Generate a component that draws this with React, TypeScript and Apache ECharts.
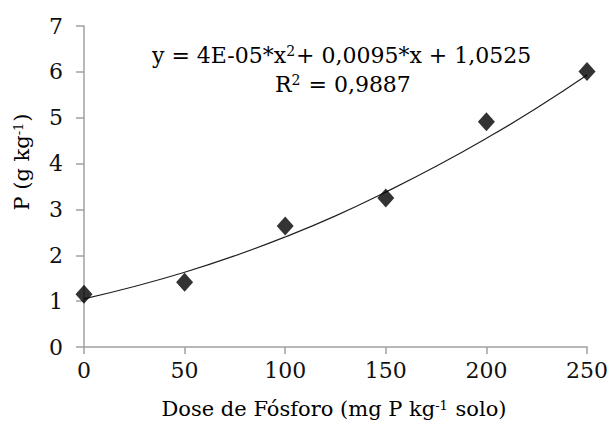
import React, { useEffect, useRef } from "react";
import * as echarts from "echarts";

const doses = [0, 50, 100, 150, 200, 250];
const pValues = [1.15, 1.41, 2.64, 3.25, 4.91, 6.01];
const curveX = [0, 25, 50, 75, 100, 125, 150, 175, 200, 225, 250];
const curveY = [1.05, 1.32, 1.63, 1.99, 2.40, 2.86, 3.38, 3.94, 4.55, 5.21, 5.93];
const xTicks = [0, 50, 100, 150, 200, 250];
const yTicks = [0, 1, 2, 3, 4, 5, 6, 7];

const FONT = "DejaVu Serif";

export default function App() {
  const ref = useRef<HTMLDivElement>(null);
  useEffect(() => {
    if (!ref.current) return;
    const chart = echarts.init(ref.current, null, { renderer: "svg" });
    const axisColor = "#a0a0a0";
    const a = { fontSize: 22, fontFamily: FONT, color: "#111" };
    const s = { fontSize: 14, fontFamily: FONT, color: "#111", verticalAlign: "top", padding: [0, 1, 8, 0] };
    const a2 = { fontSize: 21, fontFamily: FONT, color: "#111" };
    const s2 = { fontSize: 13, fontFamily: FONT, color: "#111", verticalAlign: "top", padding: [0, 1, 8, 0] };
    chart.setOption({
      animation: false,
      backgroundColor: "#ffffff",
      grid: { left: 84, right: 23, top: 26, bottom: 81, containLabel: false },
      xAxis: {
        type: "value",
        min: xTicks[0],
        max: xTicks[xTicks.length - 1],
        interval: 50,
        axisLine: { show: true, lineStyle: { color: axisColor, width: 1.5 } },
        axisTick: { show: true, length: 7, lineStyle: { color: axisColor, width: 1.5 } },
        splitLine: { show: false },
        axisLabel: { color: "#111", fontSize: 22, fontFamily: FONT, margin: 12 },
      },
      yAxis: {
        type: "value",
        min: yTicks[0],
        max: yTicks[yTicks.length - 1],
        interval: 1,
        axisLine: { show: true, lineStyle: { color: axisColor, width: 1.5 } },
        axisTick: { show: true, length: 8, lineStyle: { color: axisColor, width: 1.5 } },
        splitLine: { show: false },
        axisLabel: { color: "#111", fontSize: 22, fontFamily: FONT, margin: 21 },
      },
      series: [
        {
          type: "line",
          data: curveX.map((x, i) => [x, curveY[i]]),
          smooth: true,
          showSymbol: false,
          symbol: "none",
          lineStyle: { color: "#222", width: 1.2 },
          z: 2,
        },
        {
          type: "scatter",
          data: doses.map((x, i) => [x, pValues[i]]),
          symbol: "diamond",
          symbolSize: [17, 19],
          itemStyle: { color: "#000" },
          z: 3,
        },
      ],
      graphic: [
        {
          type: "text",
          x: 152,
          y: 55,
          style: {
            text: "{a|y = 4E-05*x}{s|2}{a|+ 0,0095*x + 1,0525}",
            verticalAlign: "middle",
            align: "left",
            rich: { a, s },
          },
        },
        {
          type: "text",
          x: 275,
          y: 84,
          style: {
            text: "{a|R}{s|2}{a| = 0,9887}",
            verticalAlign: "middle",
            align: "left",
            rich: { a, s },
          },
        },
        {
          type: "text",
          x: 334,
          y: 409,
          style: {
            text: "{a2|Dose de Fósforo (mg P kg}{s2|-1}{a2| solo)}",
            verticalAlign: "middle",
            align: "center",
            rich: { a2, s2 },
          },
        },
        {
          type: "text",
          x: 22,
          y: 162,
          rotation: Math.PI / 2,
          style: {
            text: "{a2|P (g kg}{s2|-1}{a2|)}",
            verticalAlign: "middle",
            align: "center",
            rich: { a2, s2 },
          },
        },
      ],
    });
    return () => chart.dispose();
  }, []);
  return <div ref={ref} style={{ width: 611, height: 428, position: "absolute", left: 0, top: 0 }} />;
}
